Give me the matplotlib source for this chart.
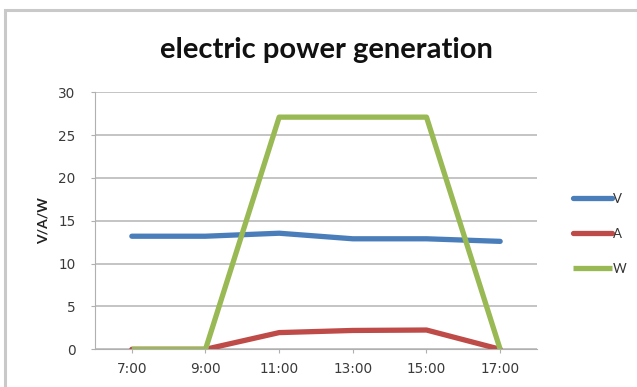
import matplotlib
matplotlib.use("Agg")
import matplotlib.pyplot as plt
from matplotlib.patches import Rectangle

# Hourly readings
times = ["7:00", "9:00", "11:00", "13:00", "15:00", "17:00"]
volts = [13.2, 13.2, 13.55, 12.9, 12.9, 12.6]
amps = [0.0, 0.0, 1.95, 2.2, 2.25, 0.0]
watts = [0.0, 0.0, 27.1, 27.1, 27.1, 0.0]
y_ticks = [0, 5, 10, 15, 20, 25, 30]

plt.rcParams["font.family"] = ["DejaVu Sans"]

W, H = 637, 387
fig = plt.figure(figsize=(W / 100, H / 100), dpi=100)

# chart area frame (continues past the right and bottom edges)
fig.patches.append(Rectangle((5 / W, -0.1), 1.2, (H - 10) / H + 0.1,
                             transform=fig.transFigure, fill=False,
                             edgecolor="#c9c9c9", linewidth=2.2, zorder=0))

ax = fig.add_axes([95 / W, 37.7 / H, 442 / W, 257 / H])
x = list(range(len(times)))

ax.plot(x, volts, color="#4a7ebb", lw=3.8, solid_capstyle="round", label="V", zorder=3)
ax.plot(x, amps, color="#be4b48", lw=3.8, solid_capstyle="round", label="A", zorder=3)
ax.plot(x, watts, color="#98b954", lw=3.8, solid_capstyle="butt", label="W", zorder=4)

ax.set_xlim(-0.5, len(times) - 0.5)
ax.set_ylim(0, 30)
ax.set_xticks(x)
ax.set_xticklabels(times)
ax.set_yticks(y_ticks)
ax.yaxis.grid(True, color="#c4c4c4", linewidth=1.4)
ax.set_axisbelow(True)

for side in ("top", "right"):
    ax.spines[side].set_visible(False)
ax.spines["left"].set_color("#b0b0b0")
ax.spines["bottom"].set_color("#b0b0b0")
ax.tick_params(axis="both", colors="#b0b0b0", labelcolor="#3a3a3a",
               labelsize=9.8, length=3, width=0.8)
ax.tick_params(axis="x", pad=6)
ax.tick_params(axis="y", pad=11)

ax.set_ylabel("V/A/W", fontsize=10, fontweight="bold", color="#222222", labelpad=6,
              family=["Lato", "DejaVu Sans"])

fig.text(326 / W, 1 - 58 / H, "electric power generation", ha="center", va="baseline",
         fontsize=21, fontweight="bold", color="#111111", family=["Lato", "DejaVu Sans"])

leg = fig.legend(loc="center left", bbox_to_anchor=(561 / W, 1 - 234 / H),
                 frameon=False, handlelength=3.0, handletextpad=0.0,
                 labelspacing=1.75, prop={"family": ["Lato", "DejaVu Sans"], "size": 9.5})
for t in leg.get_texts():
    t.set_color("#333333")

fig.savefig("out.png", dpi=100)
